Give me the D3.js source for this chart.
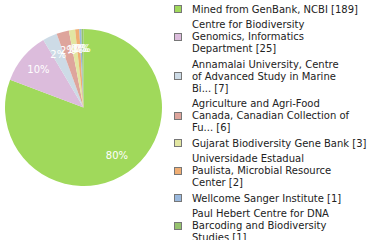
<!DOCTYPE html>
<html>
<head>
<meta charset="utf-8">
<script src="https://cdn.jsdelivr.net/npm/d3@7"></script>
<style>
  body { margin: 0; background: #fff; }
  #container { width: 380px; height: 240px; }
  text { font-family: "DejaVu Sans", sans-serif; }
</style>
</head>
<body>
<div id="container"></div>
<script>
// data
const labels = [
  ["Mined from GenBank, NCBI [189]"],
  ["Centre for Biodiversity", "Genomics, Informatics", "Department [25]"],
  ["Annamalai University, Centre", "of Advanced Study in Marine", "Bi... [7]"],
  ["Agriculture and Agri-Food", "Canada, Canadian Collection of", "Fu... [6]"],
  ["Gujarat Biodiversity Gene Bank [3]"],
  ["Universidade Estadual", "Paulista, Microbial Resource", "Center [2]"],
  ["Wellcome Sanger Institute [1]"],
  ["Paul Hebert Centre for DNA", "Barcoding and Biodiversity", "Studies [1]"]
];
const counts = [189, 25, 7, 6, 3, 2, 1, 1];
const colors = ["#a0d95b", "#dcbcdc", "#cddbe6", "#dea59c", "#e2e6a2", "#f0ae73", "#9ab9de", "#96c36e"];

function drawChart() {
  const width = 380, height = 240;
  const cx = 83.5, cy = 107.5, radius = 78.5;

  const svg = d3.select("#container")
    .append("svg")
    .attr("width", width)
    .attr("height", height);

  const total = d3.sum(counts);
  const pie = d3.pie().sort(null).value(d => d);
  const arcs = pie(counts);

  const arc = d3.arc().innerRadius(0).outerRadius(radius);
  const labelArc = d3.arc().innerRadius(radius * 0.75).outerRadius(radius * 0.75);

  const g = svg.append("g").attr("transform", `translate(${cx},${cy})`);

  g.selectAll("path")
    .data(arcs)
    .enter().append("path")
    .attr("d", arc)
    .attr("fill", (d, i) => colors[i]);

  // percentage labels, floored like the original
  g.selectAll("text")
    .data(arcs)
    .enter().append("text")
    .attr("transform", d => `translate(${labelArc.centroid(d)})`)
    .attr("text-anchor", "middle")
    .attr("dy", "0.35em")
    .style("fill", "white")
    .style("font-size", "10px")
    .text(d => Math.floor(d.data / total * 100) + "%");

  // legend
  const lineH = 12, gap = 3.5;
  let y = 9;
  const legend = svg.append("g");
  labels.forEach((lines, i) => {
    const item = legend.append("g");
    const mid = y + (lines.length - 1) * lineH / 2;
    item.append("rect")
      .attr("x", 174.5)
      .attr("y", Math.round(mid) - 3.5)
      .attr("width", 7)
      .attr("height", 7)
      .attr("fill", colors[i])
      .attr("stroke", "#777")
      .attr("stroke-width", 1);
    item.selectAll("text")
      .data(lines)
      .enter().append("text")
      .attr("x", 192)
      .attr("y", (d, j) => y + j * lineH)
      .attr("dy", "0.35em")
      .style("font-size", "10px")
      .style("fill", "#222")
      .text(d => d);
    y += lines.length * lineH + gap;
  });
}

drawChart();
</script>
</body>
</html>
